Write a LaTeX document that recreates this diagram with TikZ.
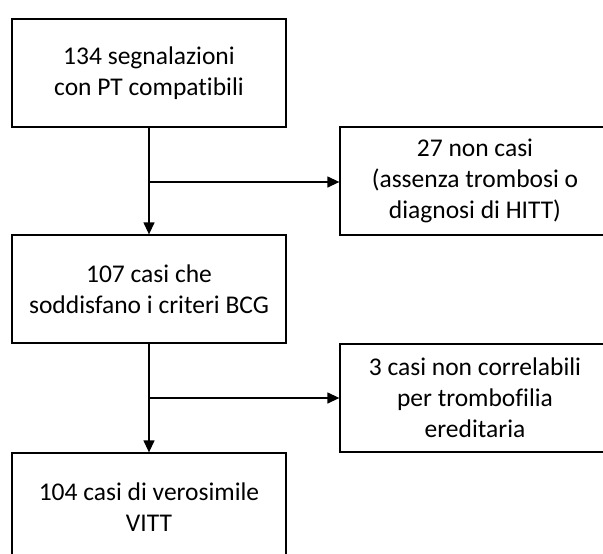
\documentclass[tikz,border=0pt]{standalone}
\usepackage{fontspec}
\setmainfont{Carlito}[Ligatures=NoCommon]
\usetikzlibrary{arrows.meta}
\begin{document}
\begin{tikzpicture}[
  x=1pt,y=-1pt,
  stage/.style={draw,line width=1.3pt,align=center,minimum width=274pt,minimum height=108pt,inner sep=0pt,font=\fontsize{25.5}{31}\selectfont},
  excl/.style={stage,minimum width=270pt},
  flow/.style={line width=1.3pt,-{Triangle[length=12pt,width=11pt]}}
]
\useasboundingbox (0,0) rectangle (603,554);
\clip (0,0) rectangle (603,554);

\node[stage] (segn) at (149,73) {134 segnalazioni\\con PT compatibili};
\node[excl] (nonc) at (475,181) {27 non casi\\(assenza trombosi o\\diagnosi di HITT)};
\node[stage] (bcg) at (149,289) {107 casi che\\soddisfano i criteri BCG};
\node[excl] (trombo) at (475,398) {3 casi non correlabili\\per trombofilia\\ereditaria};
\node[stage] (vitt) at (149,507) {104 casi di verosimile\\VITT};

\coordinate (j1) at (149,182);
\coordinate (j2) at (149,398);

\draw[line width=1.3pt] (segn) -- (j1);
\draw[flow] (j1) -- (j1 -| nonc.west);
\draw[flow] (j1) -- (bcg);
\draw[line width=1.3pt] (bcg) -- (j2);
\draw[flow] (j2) -- (j2 -| trombo.west);
\draw[flow] (j2) -- (vitt);

\end{tikzpicture}
\end{document}
